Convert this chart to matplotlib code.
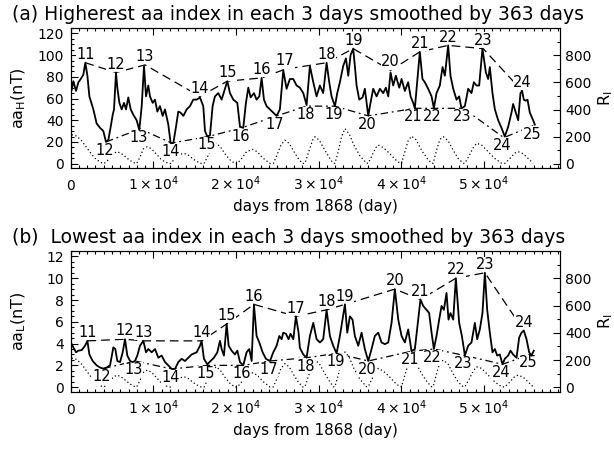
import matplotlib
matplotlib.use("Agg")
import matplotlib.pyplot as plt
from matplotlib.ticker import MultipleLocator, FixedLocator

plt.rcParams['font.family'] = 'DejaVu Sans'
plt.rcParams['mathtext.fontset'] = 'dejavusans'

# ---- panel (a): highest aa in each 3 days, smoothed (nT) ----
days_a = [120, 320, 645, 930, 1210, 1530, 1770, 2020, 2260, 2740, 3140, 3550, 3950, 4270,
          4560, 4840, 5080, 5240, 5480, 5640, 5890, 6170, 6450, 6690, 6970, 7260, 7580, 7980,
          8300, 8590, 8870, 9110, 9390, 9590, 9920, 10200, 10480, 10800, 11130, 11410, 11810,
          12090, 12420, 12740, 13020, 13300, 13630, 14030, 14430, 14830, 15240, 15640, 16040,
          16250, 16530, 16850, 17170, 17450, 17860, 18260, 18660, 18950, 19270, 19670, 20160,
          20480, 20880, 21200, 21490, 21770, 22170, 22490, 22820, 23100, 23380, 23700, 24110,
          24510, 24910, 25310, 25720, 26120, 26520, 26930, 27330, 27730, 28140, 28540, 28940,
          29350, 29750, 30150, 30550, 30960, 31280, 31560, 31970, 32250, 32570, 32970, 33300,
          33580, 33860, 34180, 34380, 34590, 34910, 35310, 35590, 36000, 36200, 36600, 37010,
          37410, 37810, 38130, 38420, 38700, 39020, 39340, 39750, 40030, 40430, 40830, 41120,
          41440, 41640, 41920, 42240, 42560, 42850, 43250, 43660, 43940, 44260, 44660, 44990,
          45270, 45470, 45670, 45950, 46280, 46680, 47000, 47280, 47690, 48090, 48490, 48780,
          49100, 49420, 49820, 50230, 50510, 50710, 51030, 51320, 51720, 52120, 52520, 52930,
          53330, 53530, 53860, 54140, 54420, 54620, 54820, 55060, 55270, 55550, 55950, 56150]
aa_high = [68, 76, 67, 75, 78, 82, 93, 81, 62, 50, 37, 33, 30, 20,
           22, 34, 45, 50, 84, 70, 56, 50, 56, 50, 61, 50, 45, 40,
           31, 53, 90, 62, 72, 62, 56, 59, 48, 53, 44, 50, 36,
           19, 19, 34, 48, 47, 44, 50, 53, 59, 59, 61, 53,
           30, 25, 26, 53, 62, 65, 59, 69, 76, 65, 59, 56,
           34, 33, 56, 70, 61, 65, 59, 62, 79, 59, 53, 50,
           47, 44, 50, 86, 69, 78, 78, 72, 70, 65, 54, 90,
           75, 62, 72, 65, 93, 75, 62, 53, 65, 75, 90, 97,
           81, 100, 106, 90, 72, 59, 61, 69, 44, 53, 69, 62,
           69, 65, 70, 62, 84, 72, 81, 70, 78, 67, 75, 62,
           56, 51, 75, 103, 78, 75, 69, 62, 51, 65, 72, 89,
           81, 95, 109, 81, 69, 59, 62, 51, 53, 69, 65, 75,
           72, 72, 106, 84, 78, 89, 65, 50, 40, 33, 25, 34,
           47, 55, 47, 40, 65, 67, 59, 58, 59, 47, 40, 36]

max_cycle_a = [11, 12, 13, 14, 15, 16, 17, 18, 19, 20, 21, 22, 23, 24]
max_day_a = [1770, 5480, 8990, 15640, 18950, 23100, 25920, 30960, 34180, 38700, 42240,
             45670, 49900, 54620]
max_val_a = [93, 84, 91, 62, 76, 79, 87, 93, 106, 86, 103, 109, 106, 67]

min_cycle_a = [12, 13, 14, 15, 16, 17, 18, 19, 20, 21, 22, 23, 24, 25]
min_day_a = [4270, 8380, 12210, 16650, 20680, 24910, 28540, 31970, 36000, 41640, 43940,
             47490, 52400, 55950]
min_val_a = [20, 32, 19, 25, 33, 44, 53, 53, 44, 51, 51, 51, 24, 35]

# ---- panel (b): lowest aa in each 3 days, smoothed (nT) ----
days_b = [120, 320, 645, 930, 1330, 1730, 2020, 2260, 2660, 3140, 3550, 3950, 4350, 4760,
          5160, 5400, 5640, 5970, 6290, 6570, 6850, 7180, 7500, 7780, 8060, 8380, 8790, 9110,
          9390, 9800, 10200, 10600, 11000, 11410, 11810, 12210, 12620, 13020, 13420, 13830,
          14230, 14630, 15240, 15640, 15840, 16120, 16530, 16930, 17330, 17740, 18060, 18260,
          18540, 18870, 19110, 19470, 19870, 20160, 20480, 20880, 21280, 21610, 21890, 22170,
          22490, 22820, 23220, 23620, 24110, 24510, 24910, 25240, 25520, 25720, 26040, 26360,
          26600, 26930, 27250, 27570, 27730, 28140, 28540, 28940, 29350, 29750, 30150, 30550,
          30960, 31360, 31760, 32170, 32570, 32890, 33180, 33460, 33780, 34100, 34380, 34790,
          35190, 35590, 36000, 36400, 36800, 37210, 37610, 38010, 38420, 38820, 39220, 39630,
          40030, 40430, 40830, 41240, 41640, 42040, 42320, 42650, 43050, 43370, 43660, 43940,
          44260, 44580, 44870, 45150, 45470, 45710, 45950, 46280, 46600, 47000, 47330, 47690,
          48090, 48490, 48900, 49180, 49500, 49820, 50110, 50390, 50710, 51030, 51320, 51600,
          51920, 52240, 52520, 52930, 53210, 53530, 53940, 54260, 54540, 54820, 55150, 55470,
          55750, 56030]
aa_low = [3.95, 3.65, 3.2, 3.35, 3.4, 3.8, 4.25, 3.0, 2.4, 2.0, 1.8, 1.7, 1.8, 2.0,
          3.65, 3.5, 2.4, 2.3, 3.2, 4.4, 2.9, 2.4, 2.3, 2.4, 2.9, 3.8, 4.25, 3.2,
          3.5, 3.2, 3.5, 2.7, 2.9, 2.3, 2.0, 1.67, 1.67, 2.3, 2.6, 2.4,
          2.7, 3.0, 3.2, 3.8, 4.25, 2.6, 2.1, 2.4, 2.7, 3.2, 4.25, 3.5,
          2.9, 5.8, 3.8, 3.35, 3.0, 3.35, 2.3, 2.0, 3.2, 3.5, 2.4, 7.6,
          4.7, 4.1, 3.2, 2.6, 2.4, 3.2, 3.8, 4.7, 4.4, 5.0, 4.9, 4.4,
          4.9, 4.4, 6.5, 5.0, 3.6, 3.0, 2.7, 4.7, 5.9, 4.4, 4.1, 4.4,
          7.1, 4.7, 3.8, 3.1, 4.7, 6.2, 7.6, 5.0, 6.5, 6.2, 4.7, 3.8,
          5.0, 3.5, 2.4, 3.5, 4.7, 5.0, 4.1, 3.95, 4.1, 5.9, 9.0, 6.2,
          4.7, 4.1, 5.3, 3.3, 3.5, 6.2, 8.05, 7.45, 7.1, 6.8, 5.0, 3.5,
          4.7, 6.2, 7.45, 7.1, 8.65, 6.2, 6.8, 6.2, 10.0, 5.9, 4.7, 2.9,
          3.8, 4.1, 5.9, 4.4, 5.3, 6.8, 10.5, 7.1, 5.0, 3.2, 3.5, 2.9,
          3.0, 2.1, 2.6, 2.9, 3.35, 3.0, 2.7, 4.55, 5.0, 5.2, 4.4, 3.2,
          2.9, 3.35]

max_cycle_b = [11, 12, 13, 14, 15, 16, 17, 18, 19, 20, 21, 22, 23, 24]
max_day_b = [2020, 6570, 8790, 15840, 18870, 22170, 27250, 30960, 33180, 39220, 42320,
             46600, 50110, 54820]
max_val_b = [4.25, 4.4, 4.25, 4.25, 5.8, 7.6, 6.5, 7.1, 7.6, 9.0, 8.05, 10.0, 10.5, 5.2]

min_cycle_b = [12, 13, 14, 15, 16, 17, 18, 19, 20, 21, 22, 23, 24, 25]
min_day_b = [3950, 7780, 12210, 16530, 20880, 24110, 28540, 32170, 36000, 41240, 43940,
             47690, 52240, 55550]
min_val_b = [1.7, 2.4, 1.67, 2.0, 2.0, 2.4, 2.7, 3.1, 2.4, 3.3, 3.5, 2.9, 2.1, 3.0]

# ---- smoothed sunspot number R_I (right axis, both panels) ----
ssn_days = [120, 730, 1330, 1930, 2540, 3140, 3750,
            4030, 4550, 5080, 5560, 6050, 6570, 7170, 7780,
            7980, 8380, 8790, 9270, 9800, 10400, 11000, 11810,
            12090, 12620, 13220, 13710, 14230, 14830, 15640,
            16120, 16530, 17050, 17580, 18060, 18660, 19270, 19870,
            20160, 20680, 21280, 22010, 22570, 23220, 24110,
            24510, 24990, 25440, 25920, 26440, 27010, 27530, 28060,
            28340, 28860, 29270, 29550, 30070, 30760, 31360, 31760,
            31970, 32370, 32770, 33180, 33700, 34260, 34990, 35790,
            36000, 36520, 36920, 37210, 37810, 38540, 39220, 39830,
            40030, 40430, 40830, 41240, 41760, 42450, 43130, 43660,
            43860, 44260, 44660, 45070, 45670, 46280, 46880, 47490,
            47690, 48210, 48700, 49100, 49700, 50510, 51320, 52120,
            52520, 53130, 53730, 54140, 54740, 55350, 55950]
ssn = [215, 205, 170, 120, 70, 30, 8,
       3, 30, 70, 90, 80, 55, 25, 5,
       3, 50, 110, 127, 110, 70, 30, 3,
       3, 40, 70, 78, 65, 35, 5,
       2, 50, 120, 151, 130, 75, 30, 3,
       3, 40, 90, 107, 90, 45, 3,
       3, 70, 140, 175, 150, 90, 40, 3,
       5, 100, 175, 200, 175, 100, 40, 5,
       5, 90, 200, 260, 220, 140, 60, 5,
       5, 70, 120, 139, 120, 80, 35, 5,
       5, 90, 170, 204, 180, 100, 40, 5,
       5, 100, 180, 200, 170, 100, 40, 5,
       5, 60, 120, 151, 140, 90, 40, 5,
       3, 40, 80, 90, 75, 40, 5]

xtick_vals = [0, 10000, 20000, 30000, 40000, 50000]
xtick_text = ['0'] + [r'$%d\times10^{4}$' % k for k in range(1, 6)]

W, H = 614, 450
fig = plt.figure(figsize=(W / 100, H / 100), dpi=100)


def draw_panel(rect, days, vals, mx, mn, ylim, ymaj, ymin, ylabel, title, title_y):
    ax = fig.add_axes(rect)
    ax2 = ax.twinx()
    ax.set_zorder(ax2.get_zorder() + 1)
    ax.patch.set_visible(False)

    ax2.plot(ssn_days, ssn, color='k', lw=0.9, ls=(0, (1, 2)))
    ax2.set_ylim(-30, 1000)
    ax2.yaxis.set_major_locator(FixedLocator([0, 200, 400, 600, 800]))
    ax2.yaxis.set_minor_locator(FixedLocator(list(range(0, 1000, 100))))
    ax2.tick_params(axis='y', which='both', direction='in', labelsize=10, pad=3.5)
    ax2.tick_params(axis='y', which='major', length=5, width=0.8)
    ax2.tick_params(axis='y', which='minor', length=2.5, width=0.8)
    ax2.set_ylabel(r'R$_\mathrm{I}$', fontsize=11.5)
    ax2.yaxis.set_label_coords(1.074, 0.5)

    # cycle maxima (dashed) and minima (dash-dot)
    ax.plot(mx[1], mx[2], color='k', lw=0.9, ls=(0, (7, 4)), zorder=2)
    ax.plot(mn[1], mn[2], color='k', lw=0.9, ls=(0, (6, 3, 1.5, 3)), zorder=2)
    for c, d, v in zip(*mx):
        ax.annotate(str(c), (d, v), xytext=(0, 6), textcoords='offset points',
                    ha='center', va='center', fontsize=10.5, zorder=3,
                    bbox=dict(fc='white', ec='none', pad=0.2))
    for c, d, v in zip(*mn):
        ax.annotate(str(c), (d, v), xytext=(-1, -6), textcoords='offset points',
                    ha='center', va='center', fontsize=10.5, zorder=3,
                    bbox=dict(fc='white', ec='none', pad=0.2))

    ax.plot(days, vals, color='k', lw=1.3, zorder=4)

    ax.set_xlim(0, 59200)
    ax.set_ylim(*ylim)
    ax.set_xticks(xtick_vals)
    ax.set_xticklabels(xtick_text)
    ax.xaxis.set_minor_locator(MultipleLocator(1000))
    ax.yaxis.set_major_locator(MultipleLocator(ymaj))
    ax.yaxis.set_minor_locator(MultipleLocator(ymin))
    ax.tick_params(which='both', direction='in', top=True, right=False, labelsize=10)
    ax.tick_params(which='major', length=5, width=0.8)
    ax.tick_params(which='minor', length=2.5, width=0.8)
    ax.tick_params(axis='y', pad=5)
    ax.tick_params(axis='x', pad=16)
    for lab in ax.get_xticklabels():
        lab.set_verticalalignment('baseline')
    ax.set_ylabel(ylabel, fontsize=11.5)
    ax.yaxis.set_label_coords(-0.087, 0.5)
    ax.set_xlabel('days from 1868 (day)', fontsize=11)
    ax.xaxis.set_label_coords(0.5, -0.225)
    for a in (ax, ax2):
        for s in a.spines.values():
            s.set_linewidth(0.8)
    fig.text(12 / W, 1 - title_y / H, title, fontsize=13.5, ha='left', va='baseline')
    return ax


left = 70.7 / W
width = 489.3 / W
draw_panel([left, 1 - 168 / H, width, 140 / H], days_a, aa_high,
           (max_cycle_a, max_day_a, max_val_a), (min_cycle_a, min_day_a, min_val_a),
           (-4, 125), 20, 5, r'aa$_\mathrm{H}$(nT)',
           '(a) Higherest aa index in each 3 days smoothed by 363 days', 20)
draw_panel([left, 1 - 391.5 / H, width, 140.5 / H], days_b, aa_low,
           (max_cycle_b, max_day_b, max_val_b), (min_cycle_b, min_day_b, min_val_b),
           (-0.4, 12.5), 2, 0.5, r'aa$_\mathrm{L}$(nT)',
           '(b)  Lowest aa index in each 3 days smoothed by 363 days', 243)

fig.savefig('out.png', dpi=100)
